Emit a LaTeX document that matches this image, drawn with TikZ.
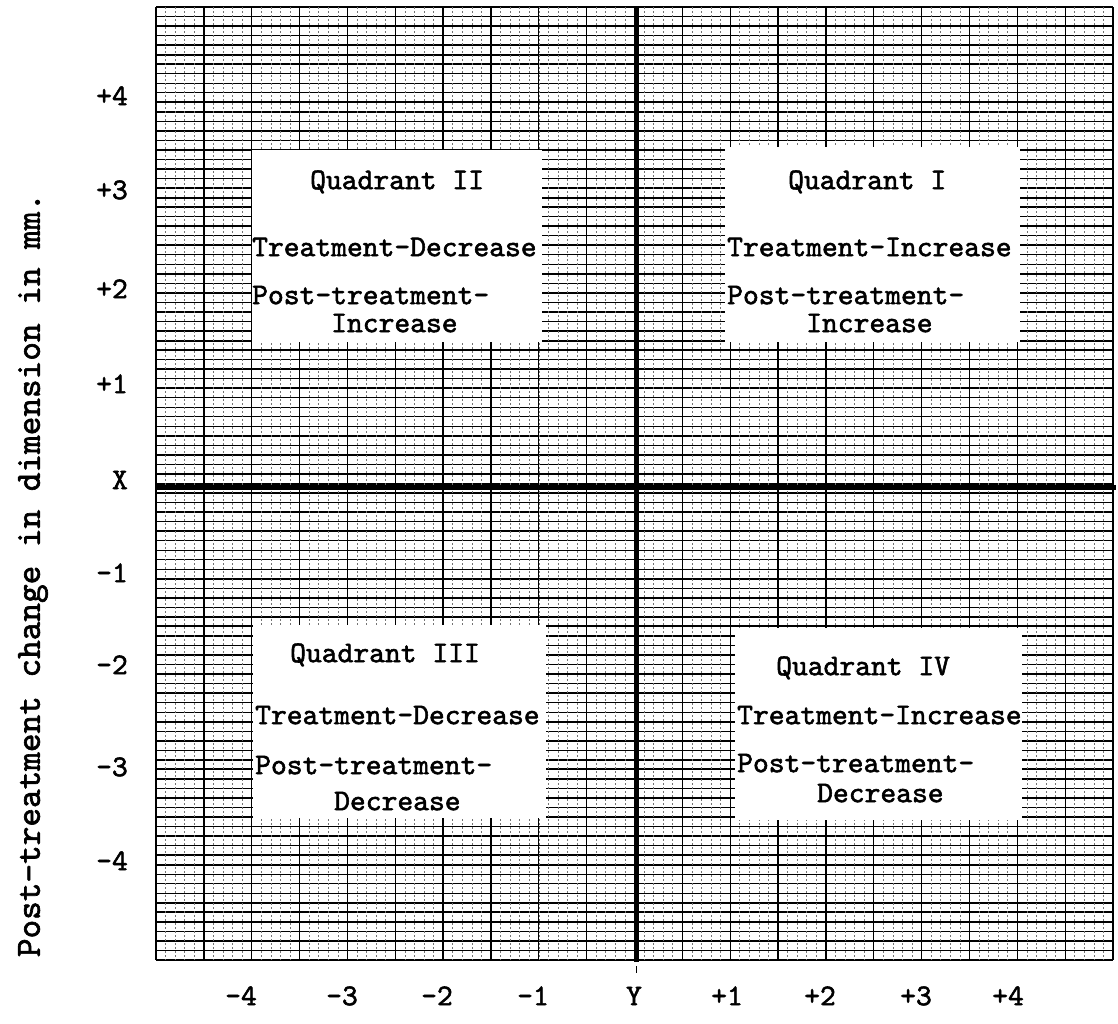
\documentclass[tikz,border=0pt]{standalone}
\usepackage{fontspec}
\newfontfamily\typew{lmmono10-regular.otf}[FakeBold=1.8]
\begin{document}
\begin{tikzpicture}[x=1pt,y=-1pt,
  hmin/.style={line width=1.4pt, black},
  hmaj/.style={line width=2.0pt, black},
  vmin/.style={line width=0.6pt, black!55, dash pattern=on 2pt off 2pt},
  vmaj/.style={line width=1.3pt, black},
  axisline/.style={line width=5pt, black},
  qbox/.style={fill=white, draw=none, inner sep=0pt, anchor=north west},
  tw/.style={font=\typew\fontsize{30.1}{36}\selectfont, inner sep=0pt},
  qtext/.style={tw, anchor=mid west},
  ylabel/.style={tw, anchor=mid east},
  xlabel/.style={tw, anchor=mid},
  axtitle/.style={font=\typew\fontsize{35.5}{40}\selectfont, inner sep=0pt, rotate=90}]
\useasboundingbox[fill=white] (0,0) rectangle (1118,1023);
% grid
\foreach \i in {0,...,100} {
  \draw[hmin] (156,{7+\i*9.53}) -- (1113,{7+\i*9.53});
}
\foreach \i in {0,5,...,100} {
  \draw[hmaj] (156,{7+\i*9.53}) -- (1113,{7+\i*9.53});
}
\foreach \j in {0,...,100} {
  \draw[vmin] ({156+\j*9.57},7) -- ({156+\j*9.57},960);
}
\foreach \j in {0,5,...,100} {
  \draw[vmaj] ({156+\j*9.57},7) -- ({156+\j*9.57},960);
}
% white boxes
\node[qbox, minimum width=295pt, minimum height=195pt] (q1) at (725,147) {};
\node[qbox, minimum width=290pt, minimum height=192pt] (q2) at (252,150) {};
\node[qbox, minimum width=293pt, minimum height=193pt] (q3) at (253,625) {};
\node[qbox, minimum width=287pt, minimum height=192pt] (q4) at (735,628) {};
% axes
\coordinate (vt) at (636,7);
\coordinate (vb) at (636,962);
\coordinate (vtick1) at (636,966);
\coordinate (vtick2) at (636,973);
\coordinate (hl) at (156,487);
\coordinate (hr) at (1116,487);
\draw[axisline] (vt) -- (vb);
\draw[line width=1pt] (vtick1) -- (vtick2);
\draw[axisline] (hl) -- (hr);
% quadrant texts
\node[qtext] (t2a) at (310,187) {Quadrant II};
\node[qtext] (t2b) at (252,254) {Treatment-Decrease};
\node[qtext] (t2c) at (252,302) {Post-treatment-};
\node[qtext] (t2d) at (331,330) {Increase};
\node[qtext] (t1a) at (788,187) {Quadrant I};
\node[qtext] (t1b) at (727,254) {Treatment-Increase};
\node[qtext] (t1c) at (727,302) {Post-treatment-};
\node[qtext] (t1d) at (806,330) {Increase};
\node[qtext] (t3a) at (290,660) {Quadrant III};
\node[qtext] (t3b) at (255,722) {Treatment-Decrease};
\node[qtext] (t3c) at (255,772) {Post-treatment-};
\node[qtext] (t3d) at (334,808) {Decrease};
\node[qtext] (t4a) at (776,673) {Quadrant IV};
\node[qtext] (t4b) at (737,722) {Treatment-Increase};
\node[qtext] (t4c) at (737,770) {Post-treatment-};
\node[qtext] (t4d) at (817,800) {Decrease};
% left labels
\node[ylabel] (yp4) at (128,103) {+4};
\node[ylabel] (yp3) at (128,197) {+3};
\node[ylabel] (yp2) at (128,296) {+2};
\node[ylabel] (yp1) at (128,391) {+1};
\node[ylabel] (yx)  at (128,487) {X};
\node[ylabel] (ym1) at (128,580) {-1};
\node[ylabel] (ym2) at (128,672) {-2};
\node[ylabel] (ym3) at (128,774) {-3};
\node[ylabel] (ym4) at (128,868) {-4};
% bottom labels
\node[xlabel] (xm4) at (241,1003) {-4};
\node[xlabel] (xm3) at (342,1003) {-3};
\node[xlabel] (xm2) at (437,1003) {-2};
\node[xlabel] (xm1) at (533,1003) {-1};
\node[xlabel] (xy)  at (634,1003) {Y};
\node[xlabel] (xp1) at (727,1003) {+1};
\node[xlabel] (xp2) at (820,1003) {+2};
\node[xlabel] (xp3) at (916,1003) {+3};
\node[xlabel] (xp4) at (1008,1003) {+4};
% axis title
\node[axtitle] (ytitle) at (33,575) {Post-treatment change in dimension in mm.};
\end{tikzpicture}
\end{document}
